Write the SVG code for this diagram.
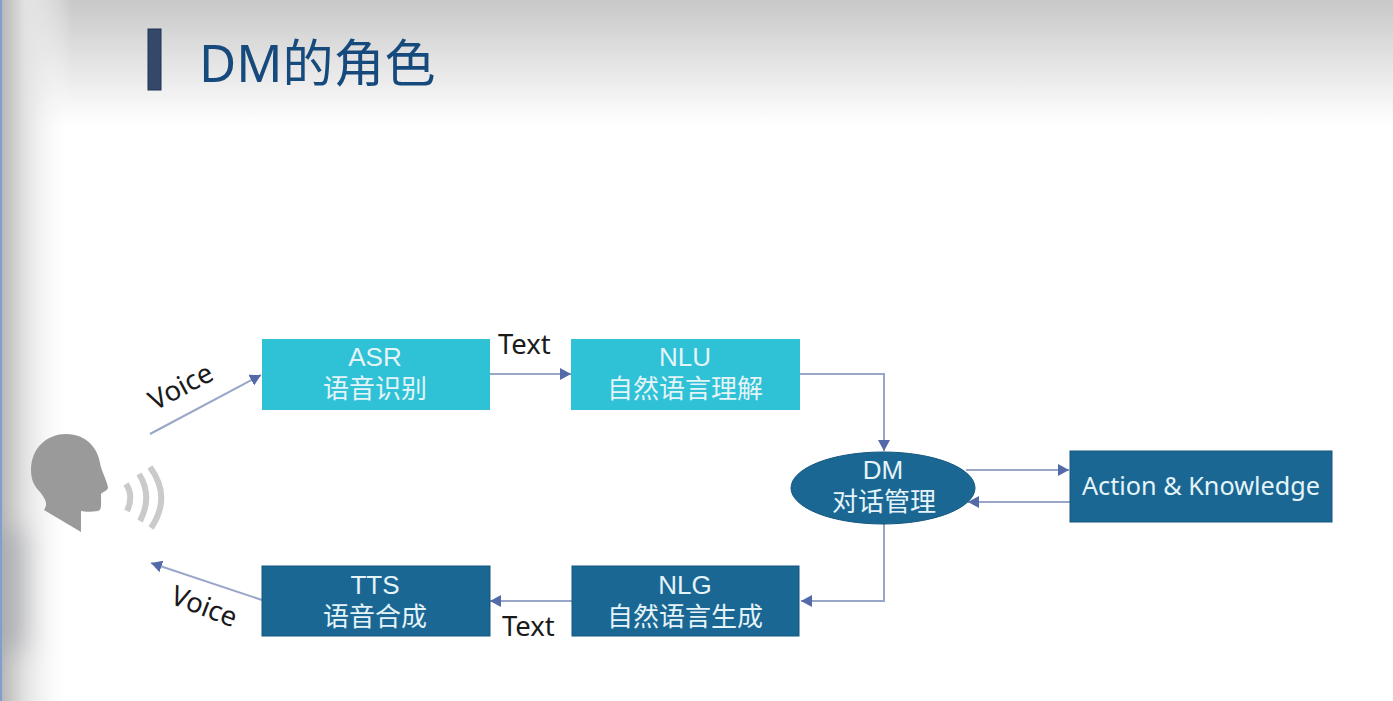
<svg xmlns="http://www.w3.org/2000/svg" width="1393" height="701" viewBox="0 0 1393 701">
<style>
text{font-family:"Noto Sans","Noto Sans CJK SC",sans-serif}
.lb{fill:#e4f4f8;font-size:26px;text-anchor:middle}
.en{fill:#e4f4f8;font-size:26px;text-anchor:middle;font-family:"Liberation Sans",sans-serif}
.bk{fill:#1a1a1a;font-size:27.5px;font-family:"Noto Sans",sans-serif}
.light{fill:#2fc1d6}
.dark{fill:#1b6794;stroke:#15577f;stroke-width:1}
.c{fill:none;stroke:#98a6c8;stroke-width:2;marker-end:url(#a)}
.w{fill:none;stroke:#cacaca;stroke-width:6}
</style>
<defs>
<marker id="a" markerUnits="userSpaceOnUse" markerWidth="13" markerHeight="14" refX="11" refY="6" orient="auto"><path d="M0 0L11 6L0 12Z" fill="#5369a8"/></marker>
<linearGradient id="top" x1="0" y1="0" x2="0" y2="1"><stop offset="0" stop-color="#c8c8c8"/><stop offset="0.5" stop-color="#e4e4e4"/><stop offset="1" stop-color="#fff"/></linearGradient>
<linearGradient id="left" x1="0" y1="0" x2="1" y2="0"><stop offset="0" stop-color="#b4b4b4"/><stop offset="0.35" stop-color="#e2e2e2"/><stop offset="1" stop-color="#fff" stop-opacity="0"/></linearGradient>
<linearGradient id="left2" x1="0" y1="0" x2="1" y2="0"><stop offset="0" stop-color="#80838c"/><stop offset="0.5" stop-color="#c4c5c9"/><stop offset="1" stop-color="#fff" stop-opacity="0"/></linearGradient>
<filter id="b" x="-60%" y="-20%" width="220%" height="140%"><feGaussianBlur stdDeviation="12"/></filter>
</defs>
<rect width="1393" height="701" fill="#fff"/>
<rect width="1393" height="125" fill="url(#top)"/>
<rect y="0" width="72" height="701" fill="url(#left)"/>
<rect y="530" width="40" height="120" fill="url(#left2)" filter="url(#b)"/>
<rect width="2" height="701" fill="#7f9fd0"/>
<g id="title">
<rect x="148" y="29" width="13" height="61" fill="#34496a" stroke="#1d3352"/>
<text x="199" y="82" font-size="51" fill="#164a7c">DM的角色</text>
</g>
<g id="speaker">
<path d="M31 470C31 447 48 434 66 434C87 434 98 449 100 463C101 470 108 483 108 488C107 491 102 492 101 494C101 504 102 510 98 511C92 512 85 512 81 511L81 532L44 510C48 504 46 500 40 492C34 486 31 480 31 470Z" fill="#9a9a9a"/>
<path class="w" d="M126 484Q134 496 127 511"/>
<path class="w" d="M139 474Q153 496 140 521"/>
<path class="w" d="M150 467Q172 497 151 528"/>
</g>
<g id="connectors">
<path class="c" d="M150 434L261 375"/>
<path class="c" d="M490 374H571"/>
<path class="c" d="M800 374H884V451"/>
<path class="c" d="M966 470H1069"/>
<path class="c" d="M1070 502H968"/>
<path class="c" d="M884 523V601H801"/>
<path class="c" d="M572 601H490"/>
<path class="c" d="M262 600L151 563"/>
</g>
<g id="asr"><rect class="light" x="262" y="339" width="228" height="71"/><text class="en" x="375" y="366">ASR</text><text class="lb" x="375" y="398">语音识别</text></g>
<g id="nlu"><rect class="light" x="571" y="339" width="229" height="71"/><text class="en" x="685" y="366">NLU</text><text class="lb" x="685" y="398">自然语言理解</text></g>
<g id="dm"><ellipse class="dark" cx="883" cy="488" rx="92" ry="36"/><text class="en" x="883" y="479">DM</text><text class="lb" x="884" y="511">对话管理</text></g>
<g id="action"><rect class="dark" x="1070" y="451" width="262" height="71"/><text class="lb" x="1201" y="495" textLength="238" lengthAdjust="spacingAndGlyphs">Action &amp; Knowledge</text></g>
<g id="tts"><rect class="dark" x="262" y="566" width="228" height="70"/><text class="en" x="375" y="594">TTS</text><text class="lb" x="375" y="626">语音合成</text></g>
<g id="nlg"><rect class="dark" x="572" y="566" width="227" height="70"/><text class="en" x="685" y="594">NLG</text><text class="lb" x="685" y="626">自然语言生成</text></g>
<text class="bk" x="498" y="354">Text</text>
<text class="bk" x="502" y="636">Text</text>
<text class="bk" transform="translate(155 411) rotate(-28)">Voice</text>
<text class="bk" transform="translate(169 603) rotate(21)">Voice</text>
</svg>
